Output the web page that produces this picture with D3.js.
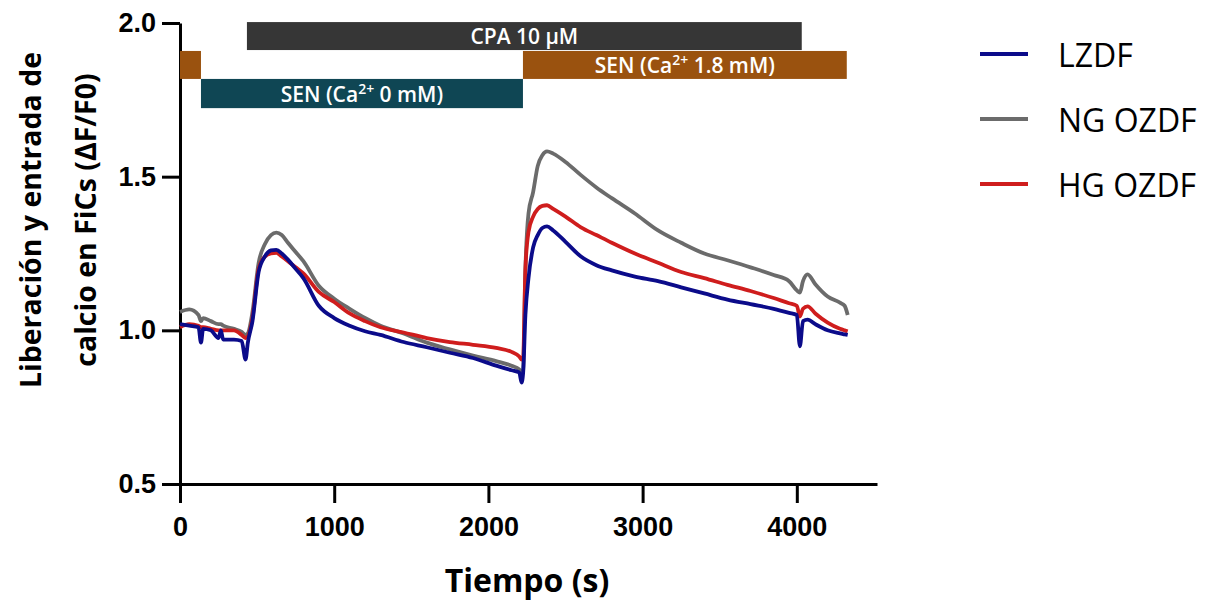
<!DOCTYPE html>
<html lang="es">
  <head>
    <meta charset="utf-8" />
    <title>Liberación y entrada de calcio en FiCs</title>
    <style>
      body { margin: 0; background: #fff; }
      svg { font-family: "Open Sans", "DejaVu Sans", sans-serif; }
      .axis path, .axis line { stroke: #000; stroke-width: 3px; }
      .axis text { font-size: 27px; font-weight: 700; fill: #000; }
    </style>
  </head>
  <body>
    <svg id="chart" width="1214" height="605"></svg>
    <script src="https://d3js.org/d3.v7.min.js"></script>
    <script>
      // time points (s) shared by the three traces
      var tiempo = [0, 60, 120, 136, 150, 200, 250, 265, 280, 350, 400, 425, 440, 470, 510, 550, 590, 625, 660, 700,
        750, 800, 900, 1000, 1100, 1200, 1300, 1450, 1600, 1750, 1900, 2050, 2150, 2200, 2215, 2225, 2240, 2260, 2290, 2320,
        2350, 2380, 2420, 2500, 2600, 2700, 2800, 2950, 3100, 3250, 3400, 3550, 3700, 3850, 3950, 4000, 4020, 4040, 4070, 4120,
        4200, 4280, 4310, 4330];

      var lzdf = [1.02, 1.015, 1.01, 0.96, 1.005, 1.0, 0.975, 1.0, 0.97, 0.97, 0.965, 0.905, 0.96, 1.03, 1.19, 1.24, 1.26, 1.262, 1.25, 1.23,
        1.2, 1.17, 1.08, 1.04, 1.015, 0.997, 0.985, 0.962, 0.945, 0.927, 0.91, 0.885, 0.87, 0.863, 0.83, 0.86, 1.05, 1.17, 1.27, 1.31,
        1.333, 1.338, 1.325, 1.288, 1.24, 1.212, 1.195, 1.175, 1.16, 1.14, 1.12, 1.1, 1.085, 1.07, 1.057, 1.05, 0.948, 1.03, 1.035, 1.02,
        1.0, 0.99, 0.987, 0.985];

      var ngOzdf = [1.06, 1.068, 1.05, 1.03, 1.04, 1.03, 1.02, 1.02, 1.015, 1.005, 0.995, 0.985, 0.99, 1.06, 1.22, 1.28, 1.31, 1.318, 1.31, 1.285,
        1.255, 1.225, 1.145, 1.103, 1.07, 1.04, 1.015, 0.99, 0.96, 0.938, 0.918, 0.9, 0.885, 0.873, 0.86, 0.87, 1.2, 1.38, 1.45, 1.535,
        1.57, 1.582, 1.575, 1.548, 1.505, 1.465, 1.43, 1.38, 1.325, 1.285, 1.25, 1.228, 1.205, 1.18, 1.16, 1.13, 1.123, 1.16, 1.182, 1.15,
        1.11, 1.09, 1.08, 1.05];

      var hgOzdf = [1.01, 1.02, 1.015, 1.01, 1.01, 1.005, 1.0, 1.0, 1.0, 1.0, 0.985, 0.975, 0.98, 1.04, 1.2, 1.24, 1.25, 1.252, 1.24, 1.225,
        1.205, 1.185, 1.125, 1.092, 1.055, 1.03, 1.01, 0.993, 0.975, 0.962, 0.953, 0.943, 0.93, 0.915, 0.905, 0.91, 1.2, 1.32, 1.37, 1.395,
        1.405, 1.407, 1.395, 1.37, 1.335, 1.31, 1.285, 1.25, 1.22, 1.19, 1.17, 1.148, 1.128, 1.105, 1.088, 1.08, 1.045, 1.07, 1.078, 1.055,
        1.025, 1.005, 1.0, 0.997];

      var seriesNames = ["LZDF", "NG OZDF", "HG OZDF"];
      var seriesColors = ["#0b0b8a", "#6b6b6b", "#cf1d1d"];

      // treatment bars: label, start (s), end (s), bottom, top (ΔF/F0)
      var barLabels = ["CPA 10 μM", "SEN (Ca|2+| 1.8 mM)", "SEN (Ca|2+| 0 mM)", "SEN (Ca|2+| 1.8 mM)"];
      var barStart = [434, 0, 136, 2224];
      var barEnd = [4032, 136, 2224, 4324];
      var barLow = [1.912, 1.818, 1.723, 1.818];
      var barHigh = [2.003, 1.909, 1.818, 1.909];
      var barColors = ["#363636", "#9a520f", "#0f4654", "#9a520f"];
      var barShowText = [true, false, true, true];

      var xTicks = [0, 1000, 2000, 3000, 4000];
      var yTicks = [0.5, 1.0, 1.5, 2.0];

      var svg = d3.select("#chart");

      var x = d3.scaleLinear().domain([0, 4520]).range([180, 877]);
      var y = d3.scaleLinear().domain([0.5, 2.0]).range([484, 23]);

      // axes
      svg.append("g")
        .attr("class", "axis")
        .attr("transform", "translate(0,484)")
        .call(d3.axisBottom(x).tickValues(xTicks).tickSize(19).tickSizeOuter(0).tickPadding(14).tickFormat(d3.format("d")));

      svg.append("g")
        .attr("class", "axis")
        .attr("transform", "translate(180,0)")
        .call(d3.axisLeft(y).tickValues(yTicks).tickSize(18).tickSizeOuter(0).tickPadding(6).tickFormat(d3.format(".1f")));

      // treatment bars
      var bars = svg.append("g");
      barLabels.forEach(function (lab, i) {
        bars.append("rect")
          .attr("x", x(barStart[i]))
          .attr("y", y(barHigh[i]))
          .attr("width", x(barEnd[i]) - x(barStart[i]))
          .attr("height", y(barLow[i]) - y(barHigh[i]))
          .attr("fill", barColors[i]);
        if (!barShowText[i]) return;
        var parts = lab.split("|");
        var t = bars.append("text")
          .attr("x", (x(barStart[i]) + x(barEnd[i])) / 2)
          .attr("y", (y(barLow[i]) + y(barHigh[i])) / 2 + 8)
          .attr("text-anchor", "middle")
          .attr("fill", "#fff")
          .attr("font-size", "21px")
          .attr("font-weight", 600);
        t.append("tspan").text(parts[0]);
        if (parts.length > 1) {
          t.append("tspan").attr("dy", -8).attr("font-size", "14px").text(parts[1]);
          t.append("tspan").attr("dy", 8).text(parts[2]);
        }
      });

      // traces
      var line = d3.line()
        .x(function (d) { return x(d[0]); })
        .y(function (d) { return y(d[1]); })
        .curve(d3.curveMonotoneX);

      var drawOrder = [1, 2, 0];
      var allSeries = [lzdf, ngOzdf, hgOzdf];
      drawOrder.forEach(function (k) {
        svg.append("path")
          .datum(tiempo.map(function (t, i) { return [t, allSeries[k][i]]; }))
          .attr("fill", "none")
          .attr("stroke", seriesColors[k])
          .attr("stroke-width", 3.8)
          .attr("stroke-linejoin", "round")
          .attr("d", line);
      });

      // legend
      var legend = svg.append("g");
      seriesNames.forEach(function (name, i) {
        var ly = 54 + i * 65;
        legend.append("line")
          .attr("x1", 980).attr("x2", 1028)
          .attr("y1", ly).attr("y2", ly)
          .attr("stroke", seriesColors[i])
          .attr("stroke-width", 4);
        legend.append("text")
          .attr("x", 1058)
          .attr("y", ly + 13)
          .attr("font-size", "32px")
          .attr("fill", "#000")
          .text(name);
      });

      // axis titles
      svg.append("text")
        .attr("x", 527)
        .attr("y", 592)
        .attr("text-anchor", "middle")
        .attr("font-size", "32px")
        .attr("font-weight", 700)
        .text("Tiempo (s)");

      var yTitle = svg.append("text")
        .attr("transform", "translate(0,220) rotate(-90)")
        .attr("text-anchor", "middle")
        .attr("font-size", "28.5px")
        .attr("font-weight", 700);
      yTitle.append("tspan").attr("x", 0).attr("y", 41).text("Liberación y entrada de");
      yTitle.append("tspan").attr("x", 0).attr("y", 96).text("calcio en FiCs (ΔF/F0)");
    </script>
  </body>
</html>
